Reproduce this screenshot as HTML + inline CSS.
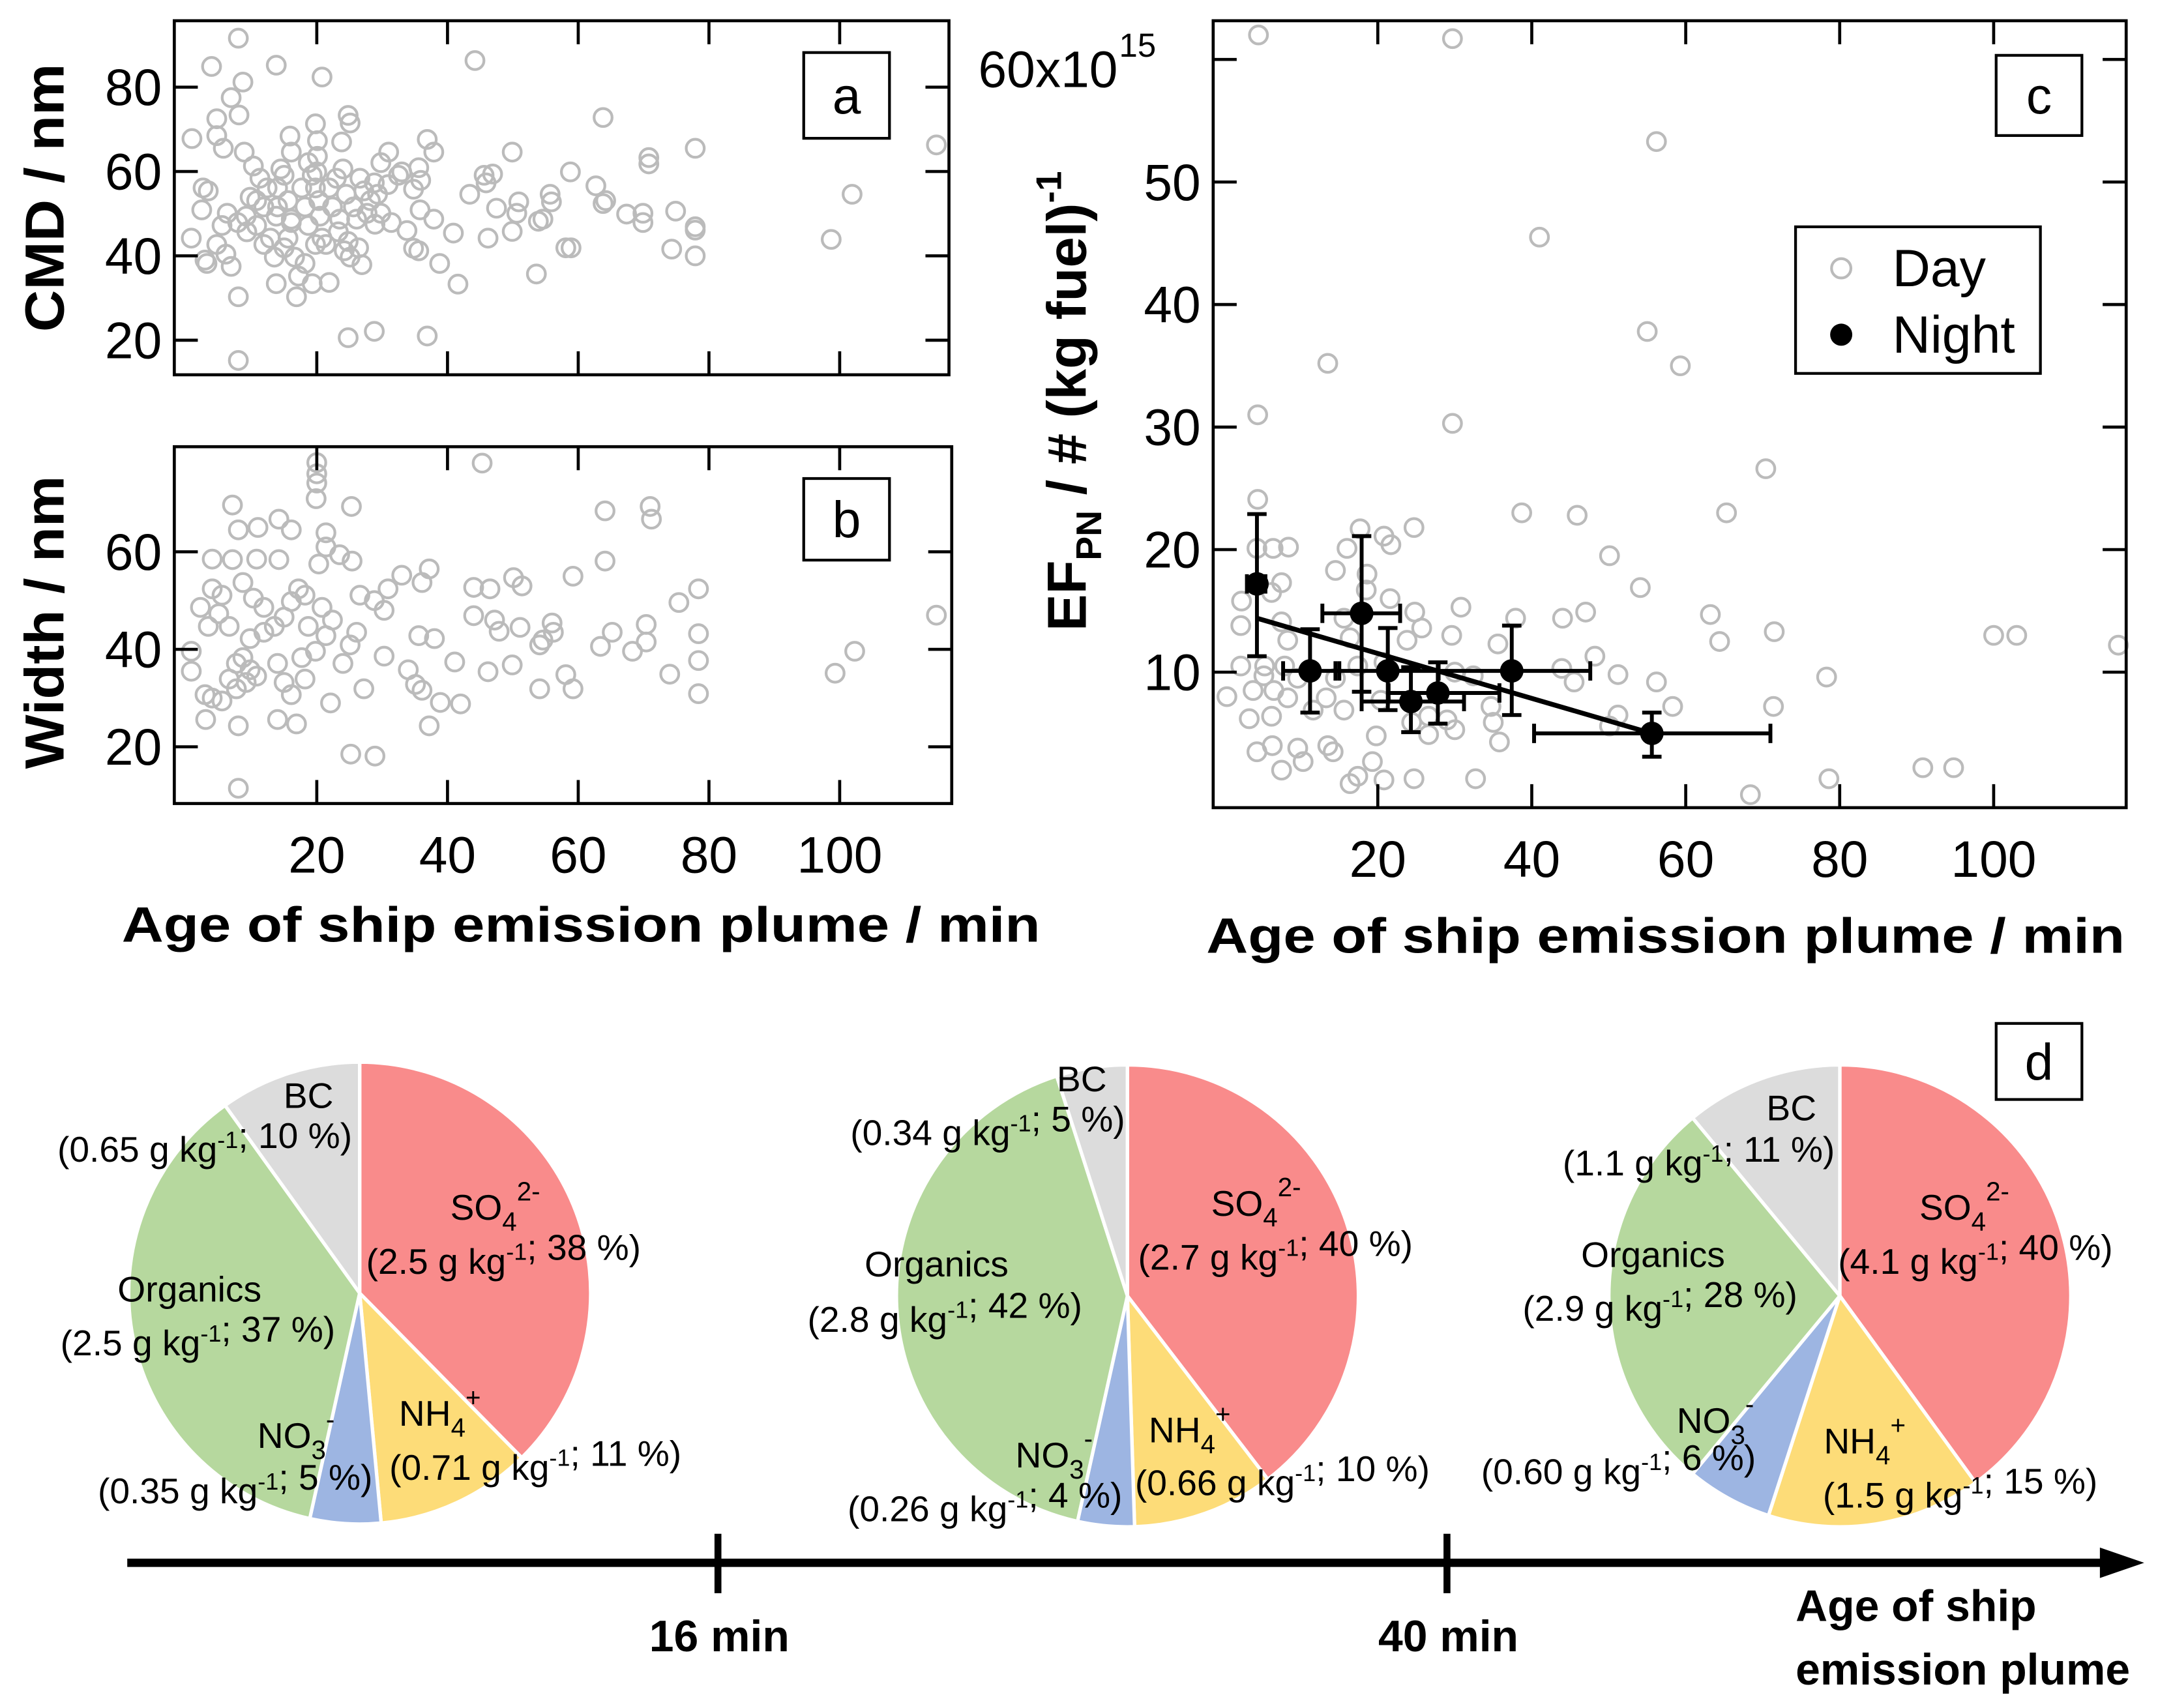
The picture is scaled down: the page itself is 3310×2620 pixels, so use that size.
<!DOCTYPE html>
<html><head><meta charset="utf-8"><style>
html,body{margin:0;padding:0;background:#fff}
svg{display:block}
text{font-family:"Liberation Sans",sans-serif;fill:#000}
.tk{font-size:37px}
.ax{font-size:36px;font-weight:bold}
.pl{font-size:26px}
</style></head><body>
<svg id="fig" width="3310" height="2620" viewBox="0 0 1560 1235" preserveAspectRatio="none" xmlns="http://www.w3.org/2000/svg">
<g id="gA"></g>
<g id="gB"></g>
<g id="gC"></g>
<g id="gD"></g>
</svg>
<script>
// ---- data ----
const aX=[8,3.9,13.8,20.8,8.7,6.9,4.7,8.1,0.9,4.7,15.9,19.8,20.1,24.8,25.1,23.8,20.1,20,16.1,5.7,8.9,31,36.9,37.9,44.2,46.9,49.9,63.8,70.8,70.8,77.9,58.8,114.8,101.9,98.7,43.4,45.6,45.9,47.5,50.9,50.6,49.9,46.2,55.7,55.9,53.9,54.6,53.6,58.1,58.9,62.7,64.2,63.8,67.4,69.9,69.9,74.9,77.9,77.9,77.9,74.3,40.9,41.6,38.8,37.9,35.8,34.8,35.6,35.9,33.8,34.8,35.6,33,28.8,29.3,29.8,28.9,27.2,28.8,24.8,36.9,8,8,16.9,13.8,21.9,19.3,26.9,24.2,25.1,24.8,23.3,0.8,2.4,2.6,3.4,2.9,3.2,5.5,4.7,6.1,6.9,6.3,7.9,9.3,9.2,10.8,10.3,11.3,12.4,11.9,12.9,13.8,14,14.5,15,15.6,16.1,15.6,16.6,17.2,17.7,18.2,18.7,19.3,19.8,20.3,20.5,20.8,21.4,21.9,22.4,23,23.5,24,24.5,25.6,26.1,26.4,27.7,28.2,26.6,30.9,31.4,32.5,29.8,11.9,10.8,9.8,13.5,15,18.7,19.8,18.2,16.1,14];
const aY=[91.6,84.9,85.2,82.4,81.2,77.5,72.5,73.4,67.8,68.5,68.4,71.3,67.3,73.3,71.5,67,63.6,59.9,64.6,65.5,64.6,64.6,67.6,64.6,86.3,59.4,64.6,72.8,63.3,61.8,65.5,59.9,66.3,54.6,43.9,54.6,59.1,57.3,51.3,52.8,50.1,45.8,44.2,54.6,52.8,48.2,48.7,35.7,41.9,41.9,56.6,53.1,52.4,49.9,50.1,47.9,50.6,46.9,46.1,40,41.6,45.4,33.3,38.2,48.7,50.9,55.8,60.9,57.9,46,41.8,41.2,59.9,57.3,54.6,50.1,47.5,55.4,22.1,20.6,21,15.2,30.3,30.3,33.4,33.7,33.4,37.9,41.2,39.7,43.4,45.7,44.2,50.9,56.1,55.4,39,38.2,47.2,42.7,40.4,37.5,50.1,47.9,45.7,49.4,47.2,61.3,58.4,56.1,51.6,44.2,49.4,56.1,60.6,59.1,53.1,48.7,44.2,39.7,35.2,56.1,51.6,62.1,59.1,56.1,53.1,49.4,44.2,42.7,56.1,51.6,58.4,48.7,60.6,54.6,51.6,48.7,41.9,50.1,53.1,58.4,56.9,47.9,59.1,62.1,42.7,53.1,53.9,39.7,41.9,47.2,42.7,38.2,47.9,51.6];
const bX=[20,20,45.3,7.1,8,11,16.1,14.2,19.9,25.3,64.1,71,71.2,20,10.8,14.2,4,7.1,21.4,21.4,20.3,23.5,25.4,64.1,59.2,50.1,51.4,44,46.5,37.2,36.1,33,78.4,75.4,114.8,102.3,99.3,44,47.2,47.9,51.1,56,56.2,54.1,54.6,63.4,65.2,68.3,70.4,70.4,78.4,78.4,78.4,74,58.1,59.2,54.1,49.9,46.2,41.1,42,38.9,38,35.6,34,35.1,36.1,37.2,25.2,28.9,8,8,3,14,16.9,22.1,27.2,30.3,28.8,30.3,30.9,0.8,0.8,2.2,3.4,2.9,4,5.5,6.6,7.7,8.7,9.8,10.8,11.9,13.5,15,16.1,17.2,18.2,18.7,19.8,21.4,22.4,24,25.1,26.1,26.6,14,15,16.1,18.2,17.7,20.8,11.9,10.3,8.7,5.5,4,5,6.6,9.8,7.7,9.2];
const bY=[78.3,76,78.2,69.6,64.5,65,64.5,66.7,70.9,69.3,68.4,69.3,66.7,74.1,58.5,58.4,58.5,58.4,63.9,61,57.5,59.4,58.1,58.1,55,54.7,53,52.7,52.4,56.5,53.7,55.2,52.4,49.6,47,39.6,35.1,46.9,46,43.7,44.5,45.4,43.5,40.9,41.9,40.6,43.5,39.6,41.5,45.1,43.2,37.7,30.9,34.9,34.8,31.9,31.9,36.8,35.4,37.4,28.8,29.1,42.2,42.8,35.8,32.8,31.6,24.3,18.5,18.1,11.5,24.3,25.6,25.6,24.7,29,31.9,38.6,50,48,52.4,39.6,35.5,48.6,44.7,30.7,30,29.4,33.9,37.1,38.3,35.8,34.5,43.5,44.7,46.6,49.8,52.4,51.1,44.7,39.6,42.8,46,37.1,40.9,43.5,51.1,37.1,33.2,30.7,33.9,38.3,48.6,48.6,50.5,53.7,51.1,52.4,47.3,44.7,42.2,31.9,33.2];
const dayX=[4.5,29.7,56.2,41,55,59.3,13.5,4.4,29.7,70.4,65.3,38.7,45.9,24.7,4.4,50.1,54.1,63.2,64.4,71.5,100,103,116.2,78.3,78.6,68.4,90.8,94.8,58.3,71.4,56.2,51.2,51.2,50.1,48.2,47,44,43.9,45.5,37.9,35.6,35,35.8,32.7,30.8,29.6,29,30,26.6,24.7,24.8,25.7,23.8,21.6,21.7,20.8,17.7,18.6,18.5,14.5,16,20.8,20.4,19.8,19.3,20.8,16.4,17.4,14.2,13.5,10.3,9.6,7.5,6.3,4.3,3.3,0.4,2.2,2.2,2.3,4.3,6.4,8.4,7.5,6.2,7.5,8.3,5.3,3.8,6.2,6.5,8.3,11.6,13.3,14.5,15.6,15.6,16.4,30,32.4,34.7,24.4,26.6,17.4,9.6,7.9,5.2];
const dayY=[62,61.7,53.3,45.5,37.8,35,35.2,31,30.3,26.6,23,23,22.8,21.8,24.1,19.5,16.9,14.7,12.5,13.3,13,13,12.2,9.6,1.3,0,2.2,2.2,7.2,7.2,9.2,9.8,6.5,5.6,11.3,14.9,14.4,10.3,9.2,14.4,12.3,5.9,4.3,1.3,15.3,13,6.1,5.3,4.9,1.3,14.9,13.6,12.6,16,20.4,21.1,21.7,18,16.7,18.3,20.1,10.8,7.7,4.8,2.7,1.2,0.9,1.5,3.5,4,2.7,3.8,2,4,3.5,6.2,8,10.5,13.8,15.8,20.1,20.1,20.2,17.3,16.5,14.1,12.6,10.5,8.5,6.4,8.5,7.9,6.9,7.9,9.5,6.9,14.4,12.8,10,9.7,7.2,5.9,6.4,10.5,9.5,10.5,9.7];
const nightX=[4.3,11.2,17.9,21.3,24.3,27.8,37.4,55.6];
const nightY=[17.2,10.1,14.8,10.1,7.6,8.3,10.1,5.0];
const nightXlo=[3.0,7.7,12.8,14.5,17.9,21.4,27.8,40.3];
const nightXhi=[5.4,15.0,22.9,27.9,31.2,35.8,47.6,71.0];
const nightYlo=[11.3,6.7,8.4,6.9,5.1,5.8,6.5,3.1];
const nightYhi=[22.9,13.5,21.1,13.6,10.4,10.8,13.8,6.7];
const fitX=[4.3,55.6];
const fitY=[14.4,5.0];
const ticksX=[20,40,60,80,100];
const ticksA=[20,40,60,80];
const ticksB=[20,40,60];
const ticksC=[10,20,30,40,50];
const pieNames=["so4","nh4","no3","organics","bc"];
const pie1=[38,11,5,37,10];
const pie2=[40,10,4,42,5];
const pie3=[40,15,6,28,11];
const pieColors=["#f98b8b","#fddc78","#9db5e2","#b6d89e","#dcdcdc"];
const timeTicks=["16 min","40 min"];

const NS="http://www.w3.org/2000/svg";
function mk(parent,tag,attrs){const e=document.createElementNS(NS,tag);for(const k in attrs)e.setAttribute(k,attrs[k]);parent.appendChild(e);return e;}
function lin(d0,d1,p0,p1){return v=>p0+(v-d0)*(p1-p0)/(d1-d0);}

const xA=lin(0,20,134.5,229), yA=lin(0,20,307,246);
const yB=lin(0,20,610.5,540);
const xC=lin(0,20,884.7,996), yC=lin(0,10,574.6,486);

function frame(g,x0,y0,x1,y1,xt,xs,yt,ys,labelX){
  const r=mk(g,'rect',{x:x0,y:y0,width:x1-x0,height:y1-y0,fill:'none',stroke:'#000','stroke-width':2.2});
  
  xt.forEach(t=>{const x=xs(t);
    const l1=mk(g,'line',{x1:x,x2:x,y1:y1,y2:y1-17,stroke:'#000','stroke-width':2.2});
    
    const l2=mk(g,'line',{x1:x,x2:x,y1:y0,y2:y0+17,stroke:'#000','stroke-width':2.2});
    
    if(labelX){const tx=mk(g,'text',{x:x,y:labelX,'text-anchor':'middle',class:'tk'});tx.textContent=t;
      }
  });
  yt.forEach(t=>{const y=ys(t);
    const l1=mk(g,'line',{x1:x0,x2:x0+17,y1:y,y2:y,stroke:'#000','stroke-width':2.2});
    
    const l2=mk(g,'line',{x1:x1,x2:x1-17,y1:y,y2:y,stroke:'#000','stroke-width':2.2});
    
    const tx=mk(g,'text',{x:x0-9,y:y+13,'text-anchor':'end',class:'tk'});tx.textContent=t;
    
  });
}
function circles(g,xs,ys,X,Y,name){
  for(let i=0;i<X.length;i++){
    const c=mk(g,'circle',{cx:xs(X[i]),cy:ys(Y[i]),r:6.5,fill:'none',stroke:'#bbbbbb','stroke-width':2});
    
  }
}
function txt(g,x,y,s,cls,name,anchor,extra){
  const t=mk(g,'text',Object.assign({x:x,y:y,'text-anchor':anchor||'middle',class:cls},extra||{}));t.textContent=s;
  return t;
}
function boxLabel(g,x,y,w,h,s,name){
  const r=mk(g,'rect',{x:x,y:y,width:w,height:h,fill:'#fff',stroke:'#000','stroke-width':2});
  
  const t=txt(g,x+w/2,y+h/2+13,s,'tk',name);t.setAttribute('style','font-size:37px');
}

const gA=document.getElementById('gA');
circles(gA,xA,yA,aX,aY,'cmd-point');
frame(gA,126,15,686,271,ticksX,xA,ticksA,yA,null);
boxLabel(gA,581,38,62,62,'a','panel-a-label');
txt(gA,46,143,'CMD / nm','ax','y-axis-title-a','middle',{transform:'rotate(-90 46 143)',style:'font-size:40px',textLength:194,lengthAdjust:'spacingAndGlyphs'});

const gB=document.getElementById('gB');
circles(gB,xA,yB,bX,bY,'width-point');
frame(gB,126,323,688,581,ticksX,xA,ticksB,yB,631);
boxLabel(gB,581,346,62,59,'b','panel-b-label');
txt(gB,46,450,'Width / nm','ax','y-axis-title-b','middle',{transform:'rotate(-90 46 450)',style:'font-size:40px',textLength:212,lengthAdjust:'spacingAndGlyphs'});
txt(gB,420,681,'Age of ship emission plume / min','ax','x-axis-title-ab','middle',{textLength:664,lengthAdjust:'spacingAndGlyphs'});

const gC=document.getElementById('gC');
circles(gC,xC,yC,dayX,dayY,'day-point');
frame(gC,877,15,1537,584,ticksX,xC,ticksC,yC,634);
{const y=yC(60);
 const l1=mk(gC,'line',{x1:877,x2:894,y1:y,y2:y,stroke:'#000','stroke-width':2.2});
 const l2=mk(gC,'line',{x1:1537,x2:1520,y1:y,y2:y,stroke:'#000','stroke-width':2.2});
 const t=mk(gC,'text',{x:808,y:y+20,'text-anchor':'end',class:'tk'});t.textContent='60x10';
 
 const s=mk(gC,'text',{x:809,y:y-2,style:'font-size:24px'});s.textContent='15';
 }
{const l=mk(gC,'line',{x1:xC(fitX[0]),y1:yC(fitY[0]),x2:xC(fitX[1]),y2:yC(fitY[1]),stroke:'#000','stroke-width':3.5});
 }
for(let i=0;i<nightX.length;i++){
  const cx=xC(nightX[i]),cy=yC(nightY[i]);
  const g=mk(gC,'g',{});
  const st={stroke:'#000','stroke-width':2.8};
  const hx=mk(g,'line',Object.assign({x1:xC(nightXlo[i]),x2:xC(nightXhi[i]),y1:cy,y2:cy},st));
  
  [nightXlo[i],nightXhi[i]].forEach(v=>{const c=mk(g,'line',Object.assign({x1:xC(v),x2:xC(v),y1:cy-7,y2:cy+7},st));
    });
  const vy=mk(g,'line',Object.assign({x1:cx,x2:cx,y1:yC(nightYlo[i]),y2:yC(nightYhi[i])},st));
  
  [nightYlo[i],nightYhi[i]].forEach(v=>{const c=mk(g,'line',Object.assign({x1:cx-7,x2:cx+7,y1:yC(v),y2:yC(v)},st));
    });
  const d=mk(g,'circle',{cx:cx,cy:cy,r:8.5,fill:'#000'});
  
}
boxLabel(gC,1443,40,62,58,'c','panel-c-label');
{const r=mk(gC,'rect',{x:1298,y:164,width:177,height:106,fill:'#fff',stroke:'#000','stroke-width':2});
 
 const c=mk(gC,'circle',{cx:1331,cy:194,r:7,fill:'none',stroke:'#bbb','stroke-width':2});
 
 txt(gC,1368,207,'Day','tk','legend-day','start',{style:'font-size:38px'});
 const d=mk(gC,'circle',{cx:1331,cy:242,r:8,fill:'#000'});
 
 txt(gC,1368,255,'Night','tk','legend-night','start',{style:'font-size:38px'});}
{const t=mk(gC,'text',{x:785,y:290,'text-anchor':'middle',class:'ax',transform:'rotate(-90 785 290)',style:'font-size:40px'});
 
 t.innerHTML='EF<tspan dy="11" style="font-size:26px">PN</tspan><tspan dy="-11"> / # (kg fuel)</tspan><tspan dy="-18" style="font-size:26px">-1</tspan>';}
txt(gC,1204,689,'Age of ship emission plume / min','ax','x-axis-title-c','middle',{textLength:664,lengthAdjust:'spacingAndGlyphs'});

const gD=document.getElementById('gD');
function pie(cx,cy,r,vals,name){
  const g=mk(gD,'g',{});
  const tot=vals.reduce((a,b)=>a+b,0);let a0=0;
  vals.forEach((v,i)=>{const a1=a0+v/tot*2*Math.PI;
    const x0=cx+r*Math.sin(a0),y0=cy-r*Math.cos(a0),x1=cx+r*Math.sin(a1),y1=cy-r*Math.cos(a1);
    const p=mk(g,'path',{d:`M${cx},${cy}L${x0},${y0}A${r},${r} 0 ${(a1-a0)>Math.PI?1:0} 1 ${x1},${y1}Z`,fill:pieColors[i],stroke:'#fff','stroke-width':2.5});
    
    a0=a1;});
}
pie(260,935,167,pie1,'pie-16min');
pie(815,937,167,pie2,'pie-40min');
pie(1330,937,167,pie3,'pie-old');
function pl(x,y,html,name){
  const t=mk(gD,'text',{x:x,y:y,'text-anchor':'middle',class:'pl'});
  
  t.innerHTML=html;return t;
}
const sup=s=>`<tspan dy="-10" style="font-size:17px">${s}</tspan><tspan dy="10"></tspan>`;
const sub=s=>`<tspan dy="8" style="font-size:19px">${s}</tspan>`;
const so4=`SO${sub('4')}<tspan dy="-22" style="font-size:19px">2-</tspan>`;
const nh4=`NH${sub('4')}<tspan dy="-22" style="font-size:19px">+</tspan>`;
const no3=`NO${sub('3')}<tspan dy="-22" style="font-size:19px">-</tspan>`;
const amt=(a,p)=>`(${a} g kg${sup('-1')}; ${p} %)`;
pl(223,801,'BC','bc-label-1');pl(148,840,amt('0.65',10),'bc-value-1');
pl(358,882,so4,'so4-label-1');pl(364,921,amt('2.5',38),'so4-value-1');
pl(137,941,'Organics','org-label-1');pl(143,980,amt('2.5',37),'org-value-1');
pl(214,1047,no3,'no3-label-1');pl(170,1087,amt('0.35',5),'no3-value-1');
pl(318,1031,nh4,'nh4-label-1');pl(387,1070,amt('0.71',11),'nh4-value-1');
pl(782,789,'BC','bc-label-2');pl(714,828,amt('0.34',5),'bc-value-2');
pl(908,879,so4,'so4-label-2');pl(922,918,amt('2.7',40),'so4-value-2');
pl(677,923,'Organics','org-label-2');pl(683,963,amt('2.8',42),'org-value-2');
pl(762,1061,no3,'no3-label-2');pl(712,1100,amt('0.26',4),'no3-value-2');
pl(860,1043,nh4,'nh4-label-2');pl(927,1081,amt('0.66',10),'nh4-value-2');
pl(1295,810,'BC','bc-label-3');pl(1228,850,amt('1.1',11),'bc-value-3');
pl(1420,882,so4,'so4-label-3');pl(1428,921,amt('4.1',40),'so4-value-3');
pl(1195,916,'Organics','org-label-3');pl(1200,955,amt('2.9',28),'org-value-3');
pl(1240,1036,no3,'no3-label-3');pl(1170,1073,amt('0.60',6),'no3-value-3');
pl(1348,1051,nh4,'nh4-label-3');pl(1417,1090,amt('1.5',15),'nh4-value-3');
boxLabel(gD,1443,740,62,55,'d','panel-d-label');
{const l=mk(gD,'line',{x1:92,x2:1522,y1:1130,y2:1130,stroke:'#000','stroke-width':6});
 
 const a=mk(gD,'polygon',{points:'1518,1119 1550,1130 1518,1141',fill:'#000'});
 
 [519,1046].forEach((x,i)=>{const t=mk(gD,'line',{x1:x,x2:x,y1:1109,y2:1152,stroke:'#000','stroke-width':5});
   
   txt(gD,x+1,1194,timeTicks[i],'ax','time-tick-label','middle',{style:'font-size:32px'});});
 txt(gD,1298,1172,'Age of ship','ax','time-axis-title-line1','start',{style:'font-size:32px'});
 txt(gD,1298,1218,'emission plume','ax','time-axis-title-line2','start',{style:'font-size:32px'});}
</script>
</body></html>
